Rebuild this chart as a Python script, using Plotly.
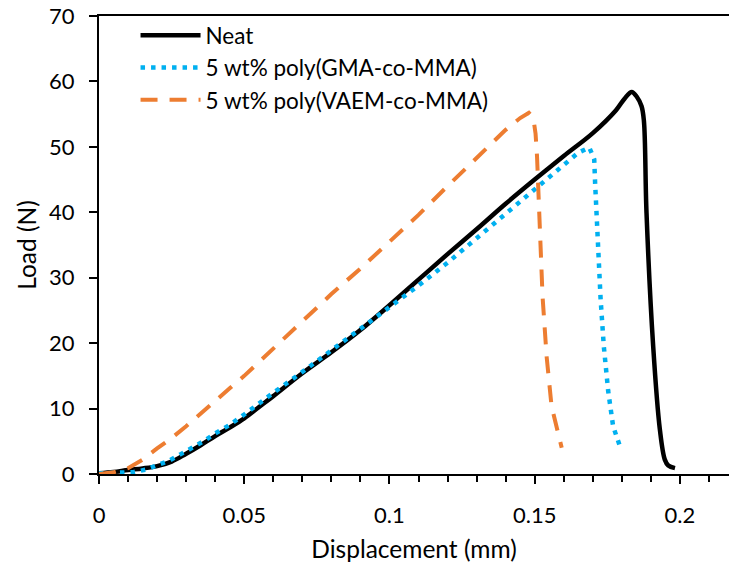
import plotly.graph_objects as go

# ---- data ----
neat_x = [0, 0.005, 0.01, 0.015, 0.02, 0.025, 0.03, 0.035, 0.04, 0.045, 0.05, 0.055, 0.06,
          0.07, 0.08, 0.09, 0.1, 0.11, 0.12, 0.13, 0.14, 0.15, 0.16, 0.17, 0.178, 0.181,
          0.1834, 0.1851, 0.1868, 0.1876, 0.1885, 0.1908, 0.1931, 0.1948, 0.196, 0.1983]
neat_y = [0.1, 0.3, 0.6, 0.85, 1.2, 1.9, 3.1, 4.4, 5.8, 7.1, 8.5, 10.2, 11.9,
          15.4, 18.6, 22.0, 25.8, 29.7, 33.6, 37.4, 41.3, 45.0, 48.6, 52.1, 55.6, 57.4,
          58.4, 57.7, 56.2, 54.0, 39.9, 19.5, 6.8, 2.2, 1.3, 0.9]

gma_x = [0, 0.004, 0.008, 0.012, 0.016, 0.02, 0.024, 0.028, 0.032, 0.036, 0.04, 0.045, 0.05,
         0.055, 0.06, 0.07, 0.08, 0.09, 0.1, 0.11, 0.12, 0.13, 0.14, 0.15, 0.16, 0.165,
         0.1688, 0.1705, 0.1708, 0.1713, 0.1719, 0.1727, 0.1738, 0.1753, 0.177, 0.1796]
gma_y = [0.1, 0.15, 0.2, 0.3, 0.65, 1.25, 2.0, 3.0, 4.0, 5.0, 6.2, 7.5, 9.1,
         10.8, 12.4, 15.6, 18.9, 22.1, 25.4, 28.8, 32.3, 36.0, 39.8, 43.5, 47.1, 49.1,
         49.9, 48.1, 44.5, 39.4, 33.8, 26.7, 19.5, 12.7, 7.3, 3.9]

vaem_x = [0, 0.005, 0.01, 0.015, 0.02, 0.025, 0.03, 0.035, 0.04, 0.045, 0.05, 0.06, 0.07,
          0.08, 0.09, 0.1, 0.11, 0.12, 0.13, 0.14, 0.145, 0.148, 0.1495, 0.1503, 0.1508,
          0.1512, 0.1518, 0.1527, 0.1541, 0.1558, 0.1593]
vaem_y = [0.0, 0.25, 0.9, 2.2, 3.9, 5.5, 7.3, 9.3, 11.2, 13.1, 15.0, 19.2, 23.4,
          27.5, 31.4, 35.4, 39.6, 44.0, 48.4, 52.6, 54.4, 55.2, 54.5, 52.0, 48.6,
          44.0, 36.3, 27.2, 18.0, 10.4, 4.0]

series_names = ["Neat", "5 wt% poly(GMA-co-MMA)", "5 wt% poly(VAEM-co-MMA)"]
x_ticks = [0, 0.05, 0.1, 0.15, 0.2]
x_tick_labels = ["0", "0.05", "0.1", "0.15", "0.2"]
y_ticks = [0, 10, 20, 30, 40, 50, 60, 70]

FONT = "Lato"

fig = go.Figure()
fig.add_trace(go.Scatter(x=neat_x, y=neat_y, mode="lines", name=series_names[0],
                         line=dict(color="black", width=4.5), line_shape="spline"))
fig.add_trace(go.Scatter(x=gma_x, y=gma_y, mode="lines", name=series_names[1],
                         line=dict(color="#00B0F0", width=4.5, dash="4.5px,6px")))
fig.add_trace(go.Scatter(x=vaem_x, y=vaem_y, mode="lines", name=series_names[2],
                         line=dict(color="#ED7D31", width=4, dash="17px,12px")))

fig.update_layout(
    width=729, height=569,
    margin=dict(l=99, r=0, t=16, b=95),
    paper_bgcolor="white", plot_bgcolor="white",
    font=dict(family=FONT, size=22, color="black"),
    showlegend=True,
    legend=dict(x=0.058, y=1.004, xanchor="left", yanchor="top",
                bgcolor="rgba(0,0,0,0)", font=dict(family=FONT, size=22.5, color="black"),
                itemwidth=60, tracegroupgap=0),
    xaxis=dict(range=[0, 0.2169], tickvals=x_ticks, ticktext=x_tick_labels,
               automargin=False,
               showgrid=False, zeroline=False, showline=True, linecolor="black", linewidth=2,
               mirror=True, ticks="outside", ticklen=8, tickwidth=2, tickcolor="black",
               ticklabelstandoff=13,
               minor=dict(dtick=0.01, ticks="outside", ticklen=6, tickwidth=2, tickcolor="black",
                          showgrid=False),
               title=dict(text="Displacement (mm)", font=dict(family=FONT, size=24.5), standoff=13)),
    yaxis=dict(range=[0, 70], tickvals=y_ticks, automargin=False,
               ticklabeloverflow="allow",
               showgrid=False, zeroline=False, showline=True, linecolor="black", linewidth=2,
               ticks="outside", ticklen=8, tickwidth=2, tickcolor="black",
               ticklabelstandoff=10,
               title=dict(text="Load (N)", font=dict(family=FONT, size=24.5), standoff=5)),
)

# remove the browser's default 8px page margin so the figure fills the window exactly
fig.write_html("out.html", config={"displayModeBar": False},
               post_script="document.body.style.margin='0';")
